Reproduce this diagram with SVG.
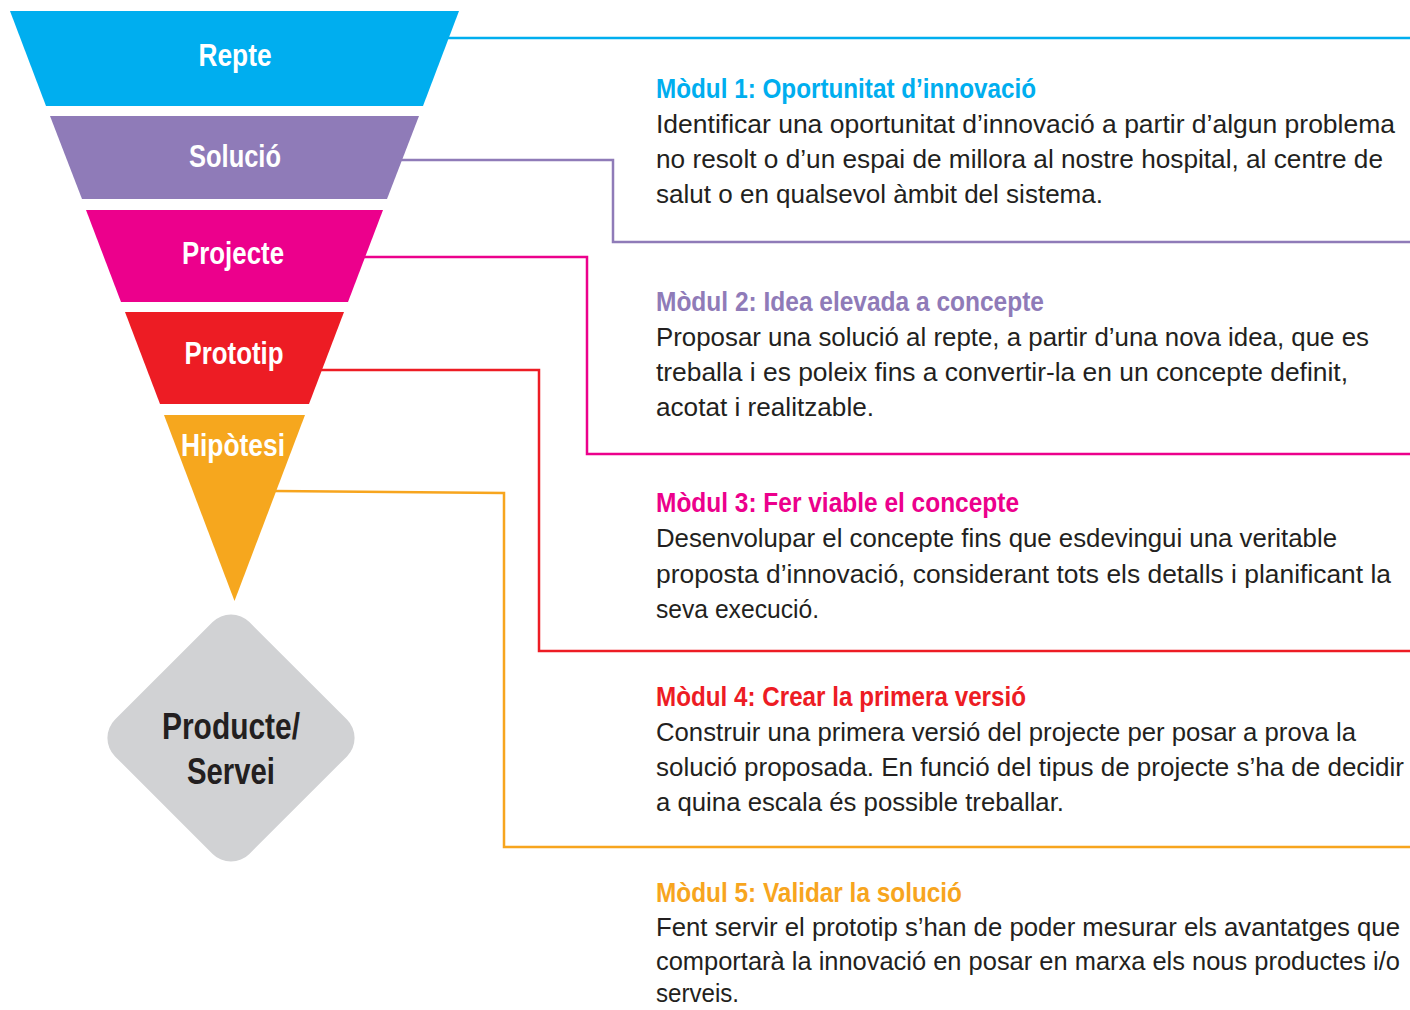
<svg xmlns="http://www.w3.org/2000/svg" width="1410" height="1010" viewBox="0 0 1410 1010">
<style>
.lbl{font-family:"Liberation Sans",Arial,sans-serif;font-weight:bold;fill:#ffffff;font-size:32px;text-anchor:middle}
.dia{font-family:"Liberation Sans",Arial,sans-serif;font-weight:bold;fill:#231f20;font-size:37px;text-anchor:middle}
.hd{font-family:"Liberation Sans",Arial,sans-serif;font-weight:bold;font-size:28px}
.bd{font-family:"Liberation Sans",Arial,sans-serif;font-size:26px;fill:#231f20}
.conn{fill:none;stroke-width:2.5}
</style>
<rect width="1410" height="1010" fill="#ffffff"/>
<g id="connectors">
<polyline class="conn" stroke="#00aeef" points="448,38 1410,38"/>
<polyline class="conn" stroke="#8f7bb8" points="401,160 613,160 613,242 1410,242"/>
<polyline class="conn" stroke="#ec008c" points="364,257 587,257 587,454 1410,454"/>
<polyline class="conn" stroke="#ed1c24" points="321,370 539,370 539,651 1410,651"/>
<polyline class="conn" stroke="#f7a51e" points="275,491 504,493 504,847 1410,847"/>
</g>
<g id="repte">
<polygon fill="#00aeef" points="10,11 459,11 423,106 46,106"/>
<text class="lbl" x="235" y="66" textLength="73" lengthAdjust="spacingAndGlyphs">Repte</text>
</g>
<g id="solucio">
<polygon fill="#8f7bb8" points="50,116 419,116 387,199 82,199"/>
<text class="lbl" x="235" y="167" textLength="92" lengthAdjust="spacingAndGlyphs">Solució</text>
</g>
<g id="projecte">
<polygon fill="#ec008c" points="86,210 383,210 348,302 121,302"/>
<text class="lbl" x="233" y="264" textLength="102" lengthAdjust="spacingAndGlyphs">Projecte</text>
</g>
<g id="prototip">
<polygon fill="#ed1c24" points="125,312 344,312 309,404 160,404"/>
<text class="lbl" x="234" y="364" textLength="99" lengthAdjust="spacingAndGlyphs">Prototip</text>
</g>
<g id="hipotesi">
<polygon fill="#f6a71e" points="164,415 305,415 234.5,601"/>
<text class="lbl" x="233" y="456" textLength="104" lengthAdjust="spacingAndGlyphs">Hipòtesi</text>
</g>
<g id="producte">
<rect x="-95" y="-95" width="190" height="190" rx="26" fill="#d1d2d4" transform="translate(231,738) rotate(45)"/>
<text class="dia" x="231" y="739" textLength="138" lengthAdjust="spacingAndGlyphs">Producte/</text>
<text class="dia" x="231" y="784" textLength="88" lengthAdjust="spacingAndGlyphs">Servei</text>
</g>
<g id="modul1">
<text class="hd" fill="#00aeef" x="656" y="98" textLength="380" lengthAdjust="spacingAndGlyphs">Mòdul 1: Oportunitat d’innovació</text>
<text class="bd" x="656" y="133" textLength="739" lengthAdjust="spacingAndGlyphs">Identificar una oportunitat d’innovació a partir d’algun problema</text>
<text class="bd" x="656" y="168" textLength="727" lengthAdjust="spacingAndGlyphs">no resolt o d’un espai de millora al nostre hospital, al centre de</text>
<text class="bd" x="656" y="203" textLength="447" lengthAdjust="spacingAndGlyphs">salut o en qualsevol àmbit del sistema.</text>
</g>
<g id="modul2">
<text class="hd" fill="#8f7bb8" x="656" y="311" textLength="388" lengthAdjust="spacingAndGlyphs">Mòdul 2: Idea elevada a concepte</text>
<text class="bd" x="656" y="346" textLength="713" lengthAdjust="spacingAndGlyphs">Proposar una solució al repte, a partir d’una nova idea, que es</text>
<text class="bd" x="656" y="381" textLength="692" lengthAdjust="spacingAndGlyphs">treballa i es poleix fins a convertir-la en un concepte definit,</text>
<text class="bd" x="656" y="416" textLength="218" lengthAdjust="spacingAndGlyphs">acotat i realitzable.</text>
</g>
<g id="modul3">
<text class="hd" fill="#ec008c" x="656" y="512" textLength="363" lengthAdjust="spacingAndGlyphs">Mòdul 3: Fer viable el concepte</text>
<text class="bd" x="656" y="547" textLength="681" lengthAdjust="spacingAndGlyphs">Desenvolupar el concepte fins que esdevingui una veritable</text>
<text class="bd" x="656" y="583" textLength="735" lengthAdjust="spacingAndGlyphs">proposta d’innovació, considerant tots els detalls i planificant la</text>
<text class="bd" x="656" y="618" textLength="163" lengthAdjust="spacingAndGlyphs">seva execució.</text>
</g>
<g id="modul4">
<text class="hd" fill="#ed1c24" x="656" y="706" textLength="370" lengthAdjust="spacingAndGlyphs">Mòdul 4: Crear la primera versió</text>
<text class="bd" x="656" y="741" textLength="700" lengthAdjust="spacingAndGlyphs">Construir una primera versió del projecte per posar a prova la</text>
<text class="bd" x="656" y="776" textLength="748" lengthAdjust="spacingAndGlyphs">solució proposada. En funció del tipus de projecte s’ha de decidir</text>
<text class="bd" x="656" y="811" textLength="408" lengthAdjust="spacingAndGlyphs">a quina escala és possible treballar.</text>
</g>
<g id="modul5">
<text class="hd" fill="#f7a51e" x="656" y="902" textLength="306" lengthAdjust="spacingAndGlyphs">Mòdul 5: Validar la solució</text>
<text class="bd" x="656" y="936" textLength="744" lengthAdjust="spacingAndGlyphs">Fent servir el prototip s’han de poder mesurar els avantatges que</text>
<text class="bd" x="656" y="970" font-size="25" textLength="744" lengthAdjust="spacingAndGlyphs">comportarà la innovació en posar en marxa els nous productes i/o</text>
<text class="bd" x="656" y="1002" textLength="83" lengthAdjust="spacingAndGlyphs">serveis.</text>
</g>
</svg>
